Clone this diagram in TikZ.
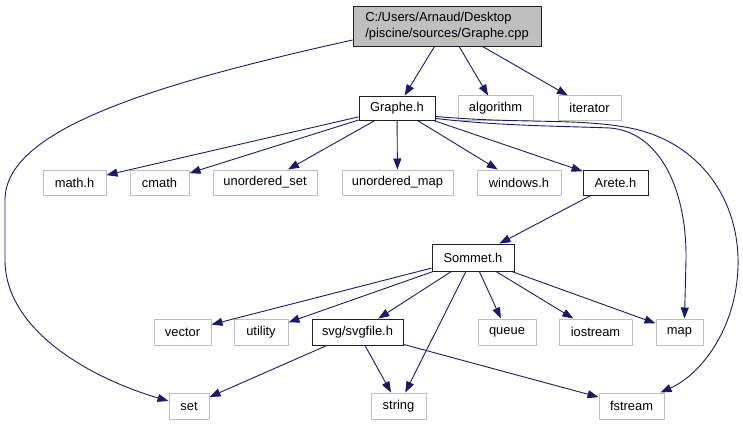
\documentclass[tikz,border=0pt]{standalone}
\usepackage{fontspec}
\setmainfont{Liberation Sans}
\usetikzlibrary{arrows.meta}
\definecolor{edgec}{HTML}{191970}
\definecolor{extc}{HTML}{BFBFBF}
\definecolor{cppfill}{HTML}{BFBFBF}
\definecolor{intc}{HTML}{202020}
\begin{document}
\begin{tikzpicture}[x=1pt,y=-1pt,
 font=\fontsize{12.9}{16}\selectfont,
 ext/.style={draw=extc, line width=1pt, fill=white, inner sep=0pt, minimum height=25pt},
 int/.style={draw=intc, line width=0.9pt, fill=white, inner sep=0pt, minimum height=25pt},
 edge/.style={draw=edgec, line width=0.9pt, -{Triangle[length=11pt,width=8pt]}}]
\fill[white] (0,0) rectangle (743,425);
\useasboundingbox (0,0) rectangle (743,425);
% nodes
\node[int, fill=cppfill, minimum width=188pt, minimum height=40pt, align=left] (cpp) at (447,26) {C:/Users/Arnaud/Desktop\\/piscine/sources/Graphe.cpp};
\node[int, minimum width=76pt, minimum height=24pt] (gh) at (397,108) {Graphe.h};
\node[ext, minimum width=75pt, minimum height=24pt] (alg) at (495.5,108) {algorithm};
\node[ext, minimum width=63pt, minimum height=24pt] (itr) at (589.5,108) {iterator};
\node[ext, minimum width=63pt] (math) at (74.5,182.5) {math.h};
\node[ext, minimum width=59pt] (cmath) at (159.5,182.5) {cmath};
\node[ext, minimum width=104pt] (uset) at (265,182.5) {unordered\_set};
\node[ext, minimum width=111pt] (umap) at (397.5,182.5) {unordered\_map};
\node[ext, minimum width=84pt] (win) at (519,182.5) {windows.h};
\node[int, minimum width=65pt] (arete) at (615.5,182.5) {Arete.h};
\node[int, minimum width=82pt, minimum height=27pt] (sommet) at (473,257.5) {Sommet.h};
\node[ext, minimum width=57pt, minimum height=26pt] (vector) at (182.5,332) {vector};
\node[ext, minimum width=54pt, minimum height=26pt] (utility) at (261,332) {utility};
\node[int, minimum width=91pt, minimum height=26pt] (svg) at (357.5,332) {svg/svgfile.h};
\node[ext, minimum width=58pt, minimum height=26pt] (queue) at (507,332) {queue};
\node[ext, minimum width=73pt, minimum height=26pt] (iostream) at (595.5,332) {iostream};
\node[ext, minimum width=47pt, minimum height=26pt] (map) at (679.5,332) {map};
\node[ext, minimum width=40pt, minimum height=26pt] (set) at (189,406) {set};
\node[ext, minimum width=55pt, minimum height=26pt] (string) at (398.5,406) {string};
\node[ext, minimum width=65pt, minimum height=26pt] (fstream) at (631.5,406) {fstream};
% edges from Graphe.cpp
\draw[edge] (cpp) -- (gh);
\draw[edge] (cpp) -- (alg);
\draw[edge] (cpp) -- (itr);
\draw[edge] ([yshift=-14pt]cpp.west) .. controls (150,85) and (5,130) .. (5,200) -- (5,260) .. controls (5,330) and (90,378) .. ([yshift=5pt]set.west);
% edges from Graphe.h
\draw[edge] (gh) -- (math);
\draw[edge] (gh) -- (cmath);
\draw[edge] (gh) -- (uset);
\draw[edge] (gh) -- (umap);
\draw[edge] (gh) -- (win);
\draw[edge] (gh) -- (arete);
\draw[edge] ([yshift=2pt]gh.south east) .. controls (500,126) and (560,126) .. (610,128) .. controls (660,132) and (687,190) .. (686,260) -- ([xshift=5pt]map.north);
\draw[edge] ([yshift=4pt]gh.south east) .. controls (520,124) and (580,118) .. (630,128) .. controls (700,142) and (740,200) .. (738,267) .. controls (736,330) and (700,375) .. ([xshift=-4pt]fstream.north east);
% Arete.h
\draw[edge] (arete) -- (sommet);
% Sommet.h
\draw[edge] (sommet) -- (vector);
\draw[edge] (sommet) -- (utility);
\draw[edge] (sommet) -- (svg);
\draw[edge] (sommet) -- (string);
\draw[edge] (sommet) -- (queue);
\draw[edge] (sommet) -- (iostream);
\draw[edge] (sommet) -- (map);
% svg/svgfile.h
\draw[edge] (svg) -- (set);
\draw[edge] (svg) -- (string);
\draw[edge] (svg) -- (fstream);
\end{tikzpicture}
\end{document}
